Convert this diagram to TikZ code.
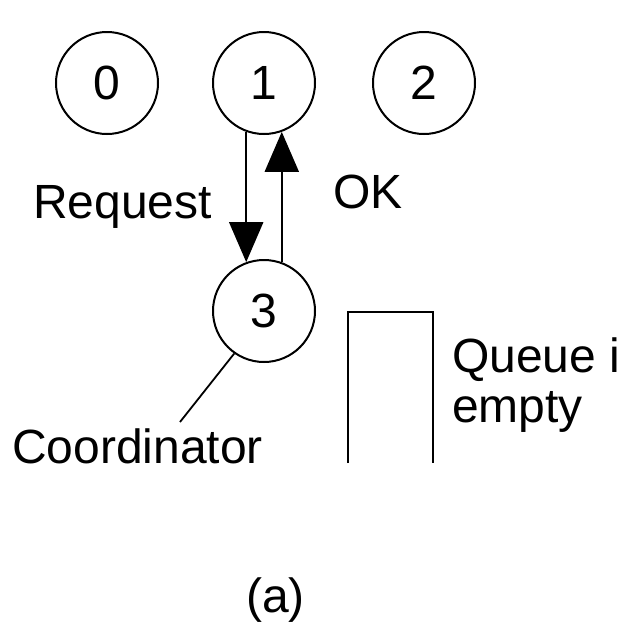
\documentclass[tikz,border=0pt]{standalone}
\usepackage{fontspec}
\setmainfont{Liberation Sans}
\usetikzlibrary{arrows.meta}
\begin{document}
\begin{tikzpicture}[x=1pt,y=-1pt,
  proc/.style={draw,circle,line width=2pt,minimum size=102pt,inner sep=0pt,font=\fontsize{48}{50}\selectfont},
  lbl/.style={inner sep=0pt,font=\fontsize{48}{50}\selectfont},
  msg/.style={line width=2pt,-{Triangle[length=40pt,width=34pt]}},
  thin/.style={line width=1.8pt}]
\useasboundingbox (0,0) rectangle (619,630);
\node[proc] (c0) at (107,83) {0};
\node[proc] (c1) at (264,83) {1};
\node[proc] (c2) at (424,83) {2};
\node[proc] (c3) at (264,311) {3};
\draw[msg] (c1.250) -- (c3.110);
\draw[msg] (c3.70) -- (c1.290);
\node[lbl,anchor=base east] (req) at (212,218) {Request};
\node[lbl,anchor=base west] (ok) at (333,208) {OK};
\coordinate (cl) at (180,422);
\draw[thin] (c3.235) -- (cl);
\node[lbl,anchor=base west] (coord) at (12,463) {Coordinator};
\coordinate (qa) at (348,463);
\coordinate (qb) at (433,312);
\coordinate (qc) at (433,463);
\draw[thin] (qa) |- (qb) -- (qc);
\node[lbl,anchor=base west] (q1) at (452,372) {Queue i};
\node[lbl,anchor=base west] (q2) at (452,422) {empty};
\node[lbl,anchor=base west] (cap) at (246,612) {(a)};
\end{tikzpicture}
\end{document}
